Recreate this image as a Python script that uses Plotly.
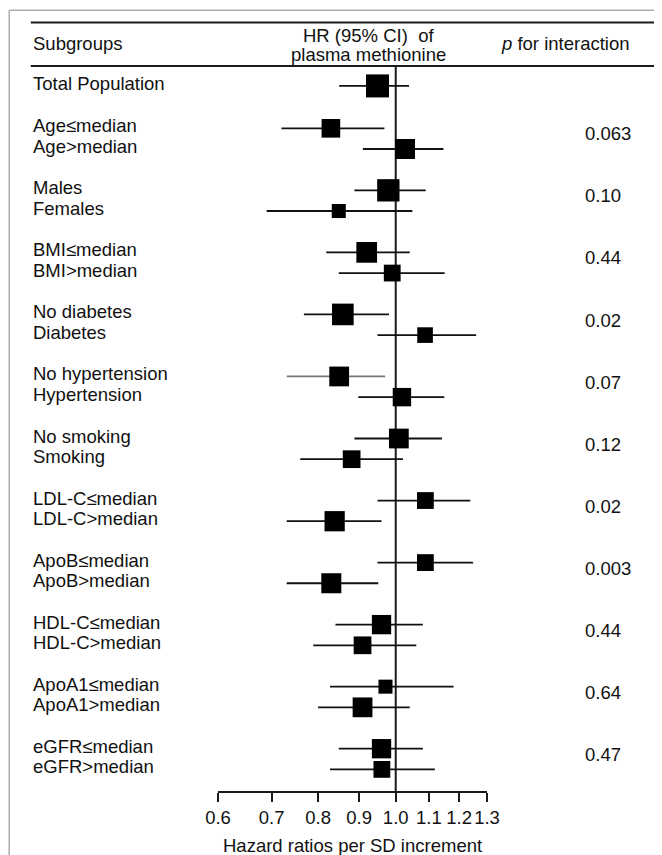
import plotly.graph_objects as go

# ---------------- data ----------------
total_label = "Total Population"
total_hr = 0.949
total_lo = 0.850
total_hi = 1.039
total_weight = 100

sub_labels = [
    ["Age≤median", "Age>median"],
    ["Males", "Females"],
    ["BMI≤median", "BMI>median"],
    ["No diabetes", "Diabetes"],
    ["No hypertension", "Hypertension"],
    ["No smoking", "Smoking"],
    ["LDL-C≤median", "LDL-C>median"],
    ["ApoB≤median", "ApoB>median"],
    ["HDL-C≤median", "HDL-C>median"],
    ["ApoA1≤median", "ApoA1>median"],
    ["eGFR≤median", "eGFR>median"],
]
sub_hr = [
    [0.830, 1.027], [0.979, 0.849], [0.920, 0.990], [0.859, 1.088],
    [0.850, 1.018], [1.009, 0.881], [1.089, 0.839], [1.089, 0.831],
    [0.960, 0.909], [0.971, 0.909], [0.960, 0.961],
]
sub_lo = [
    [0.720, 0.910], [0.888, 0.690], [0.819, 0.849], [0.768, 0.949],
    [0.731, 0.898], [0.888, 0.760], [0.949, 0.731], [0.949, 0.731],
    [0.841, 0.789], [0.828, 0.800], [0.849, 0.828],
]
sub_hi = [
    [0.968, 1.147], [1.090, 1.049], [1.041, 1.151], [0.981, 1.260],
    [0.970, 1.150], [1.142, 1.021], [1.239, 0.960], [1.249, 0.951],
    [1.081, 1.061], [1.181, 1.041], [1.081, 1.119],
]
# relative weight (box side, % of the total-population box)
sub_weight = [
    [81, 87], [97, 61], [90, 73], [94, 68], [86, 80], [86, 77],
    [73, 88], [73, 87], [84, 77], [61, 86], [84, 73],
]
p_interaction = ["0.063", "0.10", "0.44", "0.02", "0.07", "0.12",
                 "0.02", "0.003", "0.44", "0.64", "0.47"]
tick_vals = [0.6, 0.7, 0.8, 0.9, 1.0, 1.1, 1.2, 1.3]
tick_text = ["0.6", "0.7", "0.8", "0.9", "1.0", "1.1", "1.2", "1.3"]
x_title = "Hazard ratios per SD increment"
header_hr = ["HR (95% CI)\u00a0 of", "plasma methionine"]

# ---------------- layout geometry (screen px; page body has 8px margin) ----------------
OFF = 8
W, H = 662 - OFF, 855 - OFF
PL, PR = 218.3, 486.7      # plot area x on screen
PT, PB = 65.7, 790.7       # plot area y on screen
ROW0_PX = 128.0
ROW_PITCH = 20.68          # px per y unit
PAIR_STEP = 3              # y units between pairs
TOTAL_Y = -2.05
FONT = "Liberation Sans, Arial, Helvetica, sans-serif"
FS = 18.5
BOX_MAX = 23.0
TXT = "#111111"


def ypx(px):
    return (px - ROW0_PX) / ROW_PITCH


def paper_x(px):
    return (px - PL) / (PR - PL)


def paper_y(px):
    return (PB - px) / (PB - PT)


y_bottom = ypx(PB)
y_top = ypx(PT)

rows = [(total_label, total_hr, total_lo, total_hi, total_weight, TOTAL_Y)]
for k, pair in enumerate(sub_labels):
    for j in range(2):
        rows.append((pair[j], sub_hr[k][j], sub_lo[k][j], sub_hi[k][j],
                     sub_weight[k][j], k * PAIR_STEP + j))

fig = go.Figure()

# reference line at HR = 1
fig.add_trace(go.Scatter(x=[1.0, 1.0], y=[y_bottom, y_top], mode="lines",
                         line=dict(color="#1a1a1a", width=2),
                         hoverinfo="skip", showlegend=False, cliponaxis=False))

# CI lines
black_x, black_y, grey_x, grey_y = [], [], [], []
for lab, hr, lo, hi, w, y in rows:
    if lab == "No hypertension":
        grey_x += [lo, hi, None]
        grey_y += [y, y, None]
    else:
        black_x += [lo, hi, None]
        black_y += [y, y, None]
fig.add_trace(go.Scatter(x=black_x, y=black_y, mode="lines",
                         line=dict(color="#111111", width=1.8),
                         hoverinfo="skip", showlegend=False))
fig.add_trace(go.Scatter(x=grey_x, y=grey_y, mode="lines",
                         line=dict(color="#7a7a7a", width=1.8),
                         hoverinfo="skip", showlegend=False))

# boxes
fig.add_trace(go.Scatter(
    x=[r[1] for r in rows], y=[r[5] for r in rows], mode="markers",
    marker=dict(symbol="square", color="#000000", opacity=1,
                size=[BOX_MAX * r[4] / 100 for r in rows],
                line=dict(width=0)),
    opacity=1, hoverinfo="skip", showlegend=False))

font = dict(family=FONT, size=FS, color=TXT)
ann = []
for lab, hr, lo, hi, w, y in rows:
    ann.append(dict(x=paper_x(32), xref="paper", y=y - 0.12, yref="y",
                    text=lab, showarrow=False, xanchor="left", yanchor="middle",
                    font=font))
for k, pv in enumerate(p_interaction):
    ann.append(dict(x=paper_x(582), xref="paper", y=k * PAIR_STEP + 0.27, yref="y",
                    text=pv, showarrow=False, xanchor="left", yanchor="middle",
                    font=font))
ann.append(dict(x=paper_x(32), xref="paper", y=paper_y(43), yref="paper",
                text="Subgroups", showarrow=False, xanchor="left", yanchor="middle",
                font=font))
ann.append(dict(x=paper_x(368), xref="paper", y=paper_y(35.5), yref="paper",
                text=header_hr[0], showarrow=False, xanchor="center",
                yanchor="middle", font=font))
ann.append(dict(x=paper_x(368), xref="paper", y=paper_y(54), yref="paper",
                text=header_hr[1], showarrow=False, xanchor="center",
                yanchor="middle", font=font))
ann.append(dict(x=paper_x(499), xref="paper", y=paper_y(43), yref="paper",
                text="<i>p</i> for interaction", showarrow=False, xanchor="left",
                yanchor="middle", font=font))
ann.append(dict(x=0.5, xref="paper", y=paper_y(845), yref="paper",
                text=x_title, showarrow=False, xanchor="center", yanchor="middle",
                font=font))

shapes = [
    dict(type="line", xref="paper", yref="paper", x0=paper_x(10), x1=paper_x(700),
         y0=paper_y(10), y1=paper_y(10), line=dict(color="#ababab", width=1.5)),
    dict(type="line", xref="paper", yref="paper", x0=paper_x(10), x1=paper_x(10),
         y0=paper_y(10), y1=paper_y(900), line=dict(color="#ababab", width=1.5)),
    dict(type="line", xref="paper", yref="paper", x0=paper_x(31.5), x1=paper_x(700),
         y0=paper_y(22.3), y1=paper_y(22.3), line=dict(color="#1a1a1a", width=2)),
    dict(type="line", xref="paper", yref="paper", x0=paper_x(31.5), x1=paper_x(700),
         y0=paper_y(65.7), y1=paper_y(65.7), line=dict(color="#1a1a1a", width=2)),
]

fig.update_layout(
    width=W, height=H,
    margin=dict(l=PL - OFF, r=W - (PR - OFF), t=PT - OFF, b=H - (PB - OFF), pad=0),
    paper_bgcolor="white", plot_bgcolor="white",
    showlegend=False,
    annotations=ann, shapes=shapes,
    xaxis=dict(type="log", range=[-0.2218487496, 0.1139433523],
               tickvals=tick_vals, ticktext=tick_text,
               showline=True, linecolor="#1a1a1a", linewidth=2,
               ticks="outside", ticklen=9, tickwidth=1.5, tickcolor="#1a1a1a",
               ticklabelstandoff=0,
               tickfont=font,
               showgrid=False, zeroline=False, fixedrange=True),
    yaxis=dict(range=[y_bottom, y_top], visible=False, showgrid=False,
               zeroline=False, fixedrange=True),
)

fig.write_html("out.html")
